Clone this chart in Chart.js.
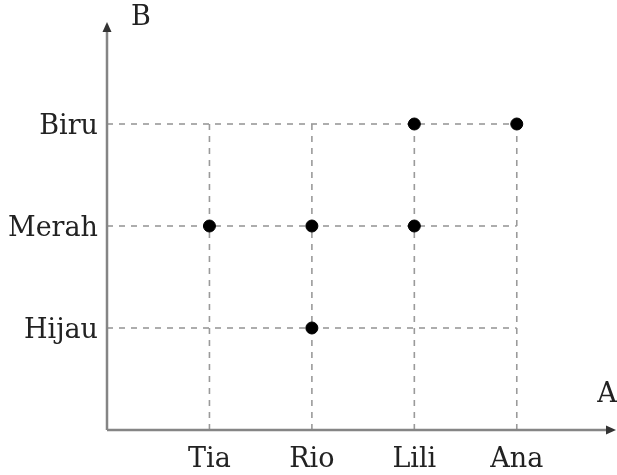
<!DOCTYPE html>
<html>
<head>
<meta charset="utf-8">
<script src="https://cdn.jsdelivr.net/npm/chart.js@4"></script>
<style>
  html, body { margin: 0; padding: 0; background: #fff; }
  #wrap { width: 617px; height: 475px; position: relative; }
</style>
</head>
<body>
<div id="wrap"><canvas id="relasi"></canvas></div>
<script>
// himpunan A dan B
const xLabels = ['Tia', 'Rio', 'Lili', 'Ana'];
const yLabels = ['Hijau', 'Merah', 'Biru'];
// pasangan berurutan (A, B)
const pairsA = ['Tia', 'Rio', 'Rio', 'Lili', 'Lili', 'Ana'];
const pairsB = ['Merah', 'Merah', 'Hijau', 'Merah', 'Biru', 'Biru'];

const serif = "'DejaVu Serif', 'Liberation Serif', serif";

const points = pairsA.map((a, i) => ({ x: xLabels.indexOf(a) + 1, y: yLabels.indexOf(pairsB[i]) + 1 }));

// dashed guide lines, built from the categories
const guide = {
  type: 'line',
  order: 2,
  borderColor: '#9a9a9a',
  backgroundColor: 'transparent',
  borderWidth: 1.6,
  borderDash: [6, 6],
  pointRadius: 0,
  fill: false
};
const guides = [];
yLabels.forEach((l, i) => {
  guides.push(Object.assign({}, guide, { data: [{ x: 0, y: i + 1 }, { x: xLabels.length, y: i + 1 }] }));
});
xLabels.forEach((l, i) => {
  guides.push(Object.assign({}, guide, { data: [{ x: i + 1, y: 0 }, { x: i + 1, y: yLabels.length }] }));
});

// axes with arrows + axis names
const arrowAxes = {
  id: 'arrowAxes',
  afterDatasetsDraw(chart) {
    const { ctx, chartArea: a } = chart;
    const x0 = chart.scales.x.getPixelForValue(0);
    const y0 = chart.scales.y.getPixelForValue(0);
    const xEnd = chart.width - 1;
    ctx.save();
    ctx.strokeStyle = '#858585';
    ctx.lineWidth = 2.5;
    ctx.beginPath();
    ctx.moveTo(x0, y0);
    ctx.lineTo(xEnd - 6, y0);
    ctx.moveTo(x0, y0);
    ctx.lineTo(x0, a.top + 6);
    ctx.stroke();
    ctx.fillStyle = '#333';
    ctx.beginPath();
    ctx.moveTo(xEnd, y0);
    ctx.lineTo(xEnd - 10, y0 - 4.5);
    ctx.lineTo(xEnd - 10, y0 + 4.5);
    ctx.closePath();
    ctx.fill();
    ctx.beginPath();
    ctx.moveTo(x0, a.top);
    ctx.lineTo(x0 - 4.5, a.top + 10);
    ctx.lineTo(x0 + 4.5, a.top + 10);
    ctx.closePath();
    ctx.fill();
    ctx.fillStyle = '#222';
    ctx.font = '27px ' + serif;
    ctx.textAlign = 'center';
    ctx.textBaseline = 'middle';
    ctx.fillText('B', x0 + 34, 18);
    ctx.fillText('A', xEnd - 9, y0 - 35);
    ctx.restore();
  }
};

const config = {
  type: 'scatter',
  data: {
    datasets: guides.concat([{
      label: 'A x B',
      order: 0,
      data: points,
      backgroundColor: '#000',
      borderColor: '#000',
      pointRadius: 6,
      pointHoverRadius: 6
    }])
  },
  options: {
    responsive: true,
    maintainAspectRatio: false,
    animation: false,
    layout: { padding: { left: 0, top: 22, right: 0, bottom: 0 } },
    plugins: { legend: { display: false }, tooltip: { enabled: false } },
    scales: {
      x: {
        type: 'linear',
        min: 0,
        max: 4.91,
        grid: { display: false },
        border: { display: false },
        afterFit: s => { s.height = 45; s.paddingLeft = 0; s.paddingRight = 0; },
        ticks: {
          stepSize: 1,
          autoSkip: false,
          maxRotation: 0,
          padding: 6,
          color: '#222',
          font: { family: serif, size: 27 },
          callback: v => xLabels[v - 1] || ''
        }
      },
      y: {
        type: 'linear',
        min: 0,
        max: 4.0,
        grid: { display: false },
        border: { display: false },
        afterFit: s => { s.width = 107; s.paddingTop = 0; s.paddingBottom = 0; },
        ticks: {
          stepSize: 1,
          autoSkip: false,
          padding: 1,
          labelOffset: 3,
          color: '#222',
          font: { family: serif, size: 27 },
          callback: v => yLabels[v - 1] || ''
        }
      }
    }
  },
  plugins: [arrowAxes]
};

const relasiChart = new Chart(document.getElementById('relasi'), config);
</script>
</body>
</html>
